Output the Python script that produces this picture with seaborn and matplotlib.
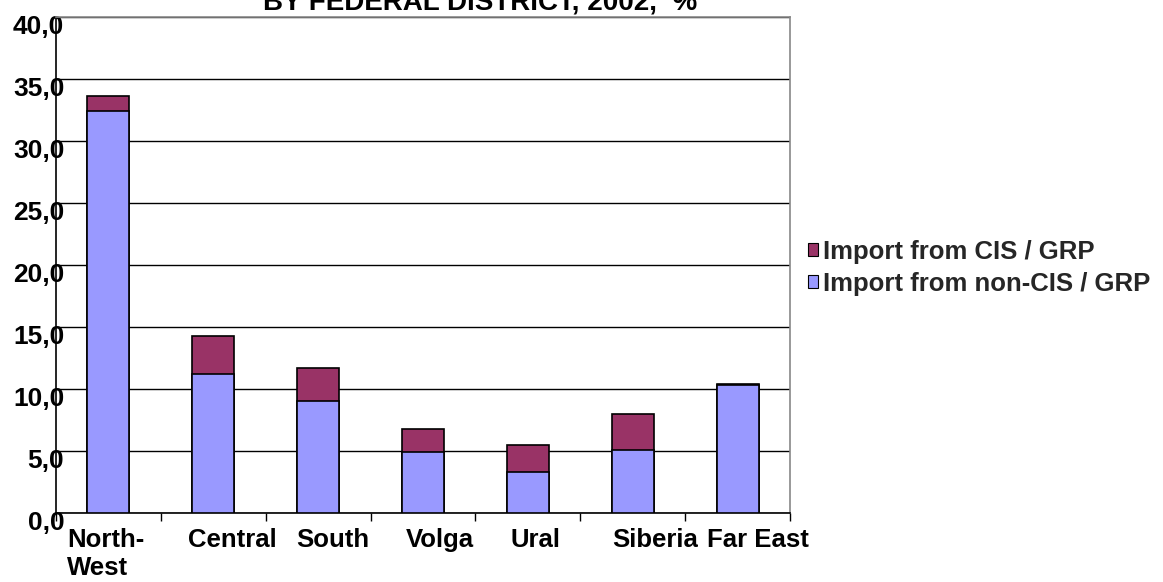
import matplotlib
matplotlib.use("Agg")
import matplotlib.pyplot as plt
import matplotlib.transforms as mtransforms
from matplotlib.ticker import FuncFormatter, FixedLocator
from matplotlib.patches import Patch
import seaborn as sns
import pandas as pd

districts = ["North-\nWest", "Central", "South", "Volga", "Ural", "Siberia", "Far East"]
non_cis = [32.4, 11.2, 9.0, 4.9, 3.3, 5.1, 10.3]
cis = [1.2, 3.1, 2.7, 1.9, 2.2, 2.9, 0.1]
title = "BY FEDERAL DISTRICT, 2002,  %"
labels = ["Import from CIS / GRP", "Import from non-CIS / GRP"]

sns.set_theme(style="white")
plt.rcParams["font.family"] = ["Liberation Sans", "DejaVu Sans"]

df = pd.DataFrame({"district": districts, "non_cis": non_cis, "cis": cis})
df["total"] = df["non_cis"] + df["cis"]

fig = plt.figure(figsize=(11.63, 5.82), dpi=100)
ax = fig.add_axes([56/1163, 1-513/582, (790-56)/1163, (513-17)/582])

c_cis = "#993366"
c_non = "#9999FF"
sns.barplot(data=df, x="district", y="total", color=c_cis, width=0.4,
            edgecolor="black", linewidth=1.2, saturation=1, ax=ax, zorder=3)
sns.barplot(data=df, x="district", y="non_cis", color=c_non, width=0.4,
            edgecolor="black", linewidth=1.2, saturation=1, ax=ax, zorder=3)

ax.set_xlim(-0.5, 6.5)
ax.set_ylim(0, 40)
ax.set_yticks(range(0, 41, 5))
ax.yaxis.set_major_formatter(FuncFormatter(lambda v, p: f"{v:.1f}".replace(".", ",")))
ax.yaxis.grid(True, color="black", linewidth=1.0, zorder=0)
ax.set_axisbelow(True)
ax.set_xlabel("")
ax.set_ylabel("")

for s in ["top", "right"]:
    ax.spines[s].set_color("#888888")
    ax.spines[s].set_linewidth(1.2)
for s in ["left", "bottom"]:
    ax.spines[s].set_color("black")
    ax.spines[s].set_linewidth(1.2)

ax.tick_params(axis="y", which="major", length=0, labelsize=19, pad=-6)
ax.tick_params(axis="x", which="major", length=0, labelsize=18.5, pad=11)
ax.xaxis.set_minor_locator(FixedLocator([i + 0.5 for i in range(-1, 7)]))
ax.tick_params(axis="x", which="minor", direction="out", length=6, width=1,
               color="black", bottom=True)
for lab in ax.get_yticklabels():
    lab.set_fontweight("bold")
    lab.set_color("black")
    lab.set_transform(lab.get_transform() + mtransforms.ScaledTranslation(0, -7/100, fig.dpi_scale_trans))

offsets = [-3, 19, 15, 17, 8, 22, 20]
for lab, off in zip(ax.get_xticklabels(), offsets):
    lab.set_fontweight("bold")
    lab.set_color("black")
    lab.set_multialignment("left")
    lab.set_transform(lab.get_transform() + mtransforms.ScaledTranslation(off/100, 0, fig.dpi_scale_trans))

fig.text(480/1163, 1-10/582, title, ha="center", va="baseline",
         fontsize=20, fontweight="bold", color="black")

handles = [Patch(facecolor=c_cis, edgecolor="black", linewidth=0.8),
           Patch(facecolor=c_non, edgecolor="black", linewidth=0.8)]
leg = fig.legend(handles, labels, loc="center left", bbox_to_anchor=(808/1163, 1-268/582),
                 frameon=False, prop={"weight": "bold", "size": 18.5},
                 handlelength=0.4, handleheight=0.4, handletextpad=0.2, labelspacing=0.32,
                 borderpad=0, borderaxespad=0)

fig.savefig("out.png", dpi=100)
